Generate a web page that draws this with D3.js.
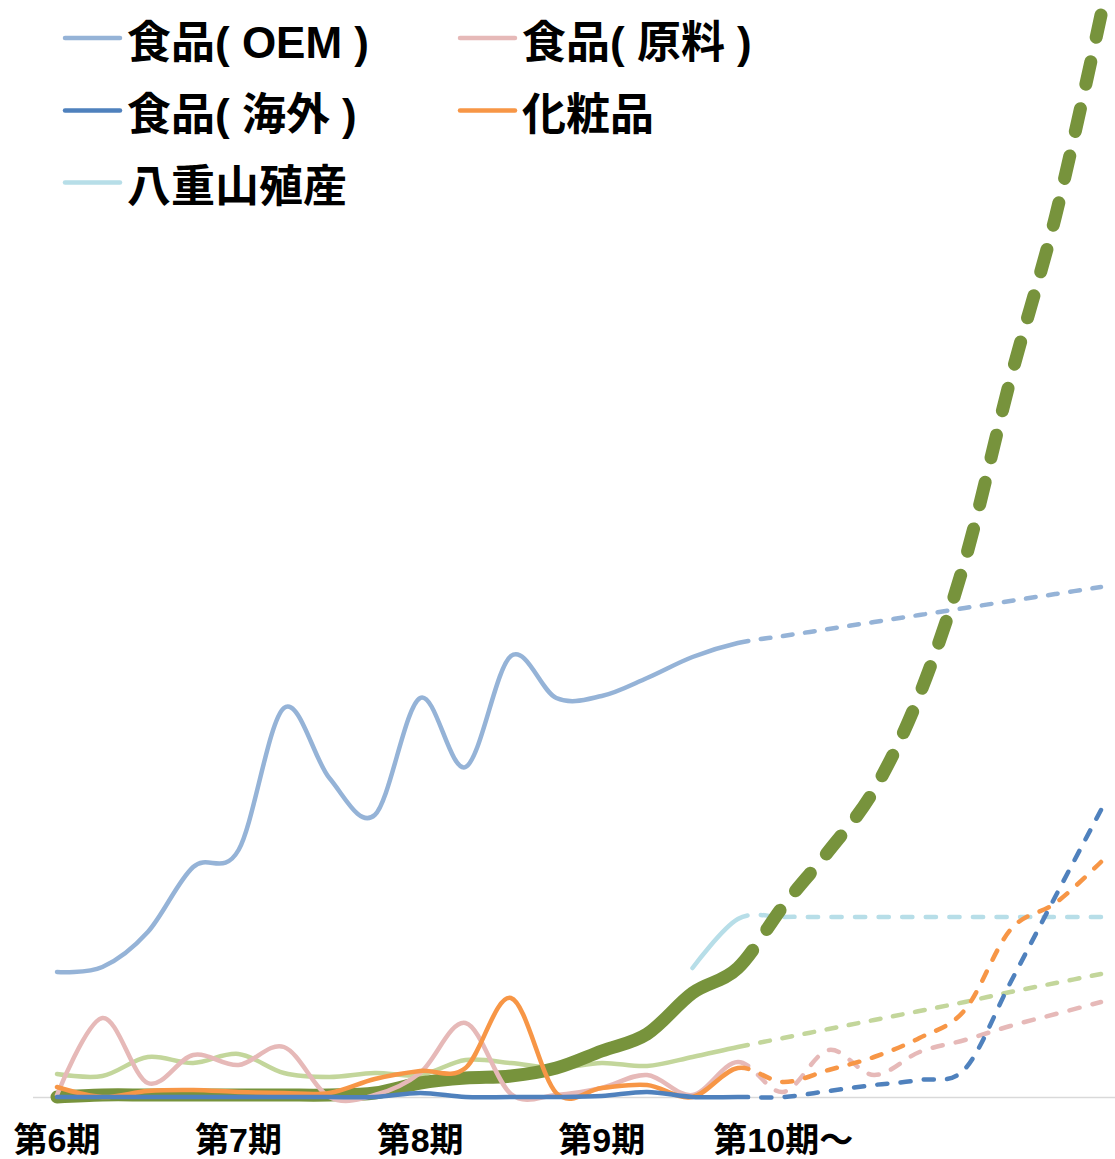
<!DOCTYPE html>
<html>
<head>
<meta charset="utf-8">
<script src="https://cdn.jsdelivr.net/npm/d3@7"></script>
<style>
  html, body { margin: 0; padding: 0; background: #ffffff; }
  svg { display: block; }
</style>
</head>
<body>
<svg id="chart" width="1115" height="1159"></svg>
<script>
// Quarterly categories, 第6期 through 第11期 (actuals to 第9期 4Q, plan afterwards)
const quarters = [
  "6期1Q", "6期2Q", "6期3Q", "6期4Q",
  "7期1Q", "7期2Q", "7期3Q", "7期4Q",
  "8期1Q", "8期2Q", "8期3Q", "8期4Q",
  "9期1Q", "9期2Q", "9期3Q", "9期4Q",
  "10期1Q", "10期2Q", "10期3Q", "10期4Q",
  "11期1Q", "11期2Q", "11期3Q", "11期4Q"
];
const lastActual = "9期4Q";

// Axis tick labels and the quarter each one sits on
const periodLabels = ["第6期", "第7期", "第8期", "第9期", "第10期〜"];
const periodQuarters = ["6期1Q", "7期1Q", "8期1Q", "9期1Q", "10期1Q"];

// Series values per quarter
const foodOEM      = [125, 130, 165, 230, 247, 389, 319, 282, 399, 330, 441, 399, 401, 419, 440, 454, 461, 468, 475, 482, 489, 496, 503, 510];
const foodMaterial = [2, 79, 14, 42, 32, 50, 0, 2, 24, 74, 3, 2, 9, 22, 2, 35, 5, 47, 22, 45, 57, 71, 83, 95];
const foodOverseas = [0, 0, 0, 0, 0, 0, 0, 0, 4, 0, 0, 0, 1, 5, 0, 0, 0, 6, 12, 17, 28, 114, 201, 287];
const cosmetics    = [10, 0, 6, 7, 5, 4, 4, 18, 26, 29, 99, 4, 9, 12, 0, 29, 15, 27, 40, 59, 87, 167, 194, 235];
const yaeyama      = [null, null, null, null, null, null, null, null, null, null, null, null, null, null, 129, 178, 180, 180, 180, 180, 180, 180, 180, 180];
const otherSales   = [23, 21, 40, 34, 43, 24, 20, 24, 22, 37, 34, 29, 34, 31, 40, 50, 59, 68, 77, 86, 95, 105, 114, 123];
const totalSales   = [0, 2, 2, 2, 2, 2, 2, 4, 14, 19, 21, 29, 46, 63, 104, 129, 191, 246, 307, 402, 536, 717, 881, 1082];

// Legend entries
const legendNames = ["食品( OEM )", "食品( 原料 )", "食品( 海外 )", "化粧品", "八重山殖産"];

const FONT = "'Liberation Sans', 'Noto Sans CJK JP', sans-serif";

const series = [
  { values: otherSales,   color: "#C3D69B", width: 4.5, dash: 10, gap: 13 },
  { values: yaeyama,      color: "#B7DEE8", width: 4.5, dash: 10, gap: 13 },
  { values: totalSales,   color: "#77933C", width: 13,  dash: 23, gap: 25 },
  { values: foodMaterial, color: "#E6B9B8", width: 4.5, dash: 10, gap: 13 },
  { values: cosmetics,    color: "#F79646", width: 4.5, dash: 10, gap: 13 },
  { values: foodOverseas, color: "#4F81BD", width: 4.5, dash: 10, gap: 13 },
  { values: foodOEM,      color: "#95B3D7", width: 4.5, dash: 10, gap: 13 }
];

const svg = d3.select("#chart");

const x = d3.scalePoint().domain(quarters).range([57, 1101]);
const y = d3.scaleLinear().domain([0, 1097]).range([1097, 0]);

// Horizontal category axis line
svg.append("line")
  .attr("x1", 33).attr("x2", 1115)
  .attr("y1", y(0) + 0.5).attr("y2", y(0) + 0.5)
  .attr("stroke", "#D9D9D9")
  .attr("stroke-width", 1.5);

// Period labels under the axis
svg.append("g")
  .selectAll("text")
  .data(periodLabels)
  .join("text")
  .attr("x", (d, i) => x(periodQuarters[i]))
  .attr("y", 1152)
  .attr("text-anchor", "middle")
  .attr("font-family", FONT)
  .attr("font-weight", "bold")
  .attr("font-size", 34)
  .attr("fill", "#000")
  .text(d => d);

const line = d3.line()
  .defined(d => d.v != null)
  .x(d => x(d.q))
  .y(d => y(d.v))
  .curve(d3.curveCardinal.tension(0));

const xBoundary = x(lastActual);

// Path length at which the curve crosses the actual/plan boundary
function lengthAtX(node, xb) {
  let lo = 0, hi = node.getTotalLength();
  for (let i = 0; i < 40; i++) {
    const mid = (lo + hi) / 2;
    if (node.getPointAtLength(mid).x < xb) lo = mid; else hi = mid;
  }
  return lo;
}

const linesG = svg.append("g");
series.forEach(s => {
  const pts = quarters.map((q, i) => ({ q, v: s.values[i] }));
  const path = linesG.append("path")
    .attr("d", line(pts))
    .attr("fill", "none")
    .attr("stroke", s.color)
    .attr("stroke-width", s.width)
    .attr("stroke-linecap", "round")
    .attr("stroke-linejoin", "round");
  const node = path.node();
  const total = node.getTotalLength();
  const solid = lengthAtX(node, xBoundary);
  // Plan segment: dash/gap pattern stretched so the line ends on a dash
  const rest = total - solid;
  const n = Math.max(1, Math.round((rest - s.dash) / (s.dash + s.gap)));
  const k = rest / ((n + 1) * s.dash + n * s.gap);
  const d = s.dash * k, g = s.gap * k;
  const arr = [solid + d];
  for (let i = 0; i < n; i++) arr.push(g, d);
  arr.push(total);
  path.attr("stroke-dasharray", arr.map(v => v.toFixed(2)).join(" "));
});

// Legend
const legendItems = [
  { name: legendNames[0], color: "#95B3D7", lx: 65,  ty: 57.5 },
  { name: legendNames[1], color: "#E6B9B8", lx: 460, ty: 57.5 },
  { name: legendNames[2], color: "#4F81BD", lx: 65,  ty: 130 },
  { name: legendNames[3], color: "#F79646", lx: 460, ty: 130 },
  { name: legendNames[4], color: "#B7DEE8", lx: 65,  ty: 202 }
];
const lg = svg.append("g");
legendItems.forEach(it => {
  lg.append("line")
    .attr("x1", it.lx).attr("x2", it.lx + 55)
    .attr("y1", it.ty - 19.5).attr("y2", it.ty - 19.5)
    .attr("stroke", it.color)
    .attr("stroke-width", 4.5)
    .attr("stroke-linecap", "round");
  lg.append("text")
    .attr("x", it.lx + 62)
    .attr("y", it.ty)
    .attr("font-family", FONT)
    .attr("font-weight", "bold")
    .attr("font-size", 44)
    .attr("fill", "#000")
    .text(it.name);
});
</script>
</body>
</html>
